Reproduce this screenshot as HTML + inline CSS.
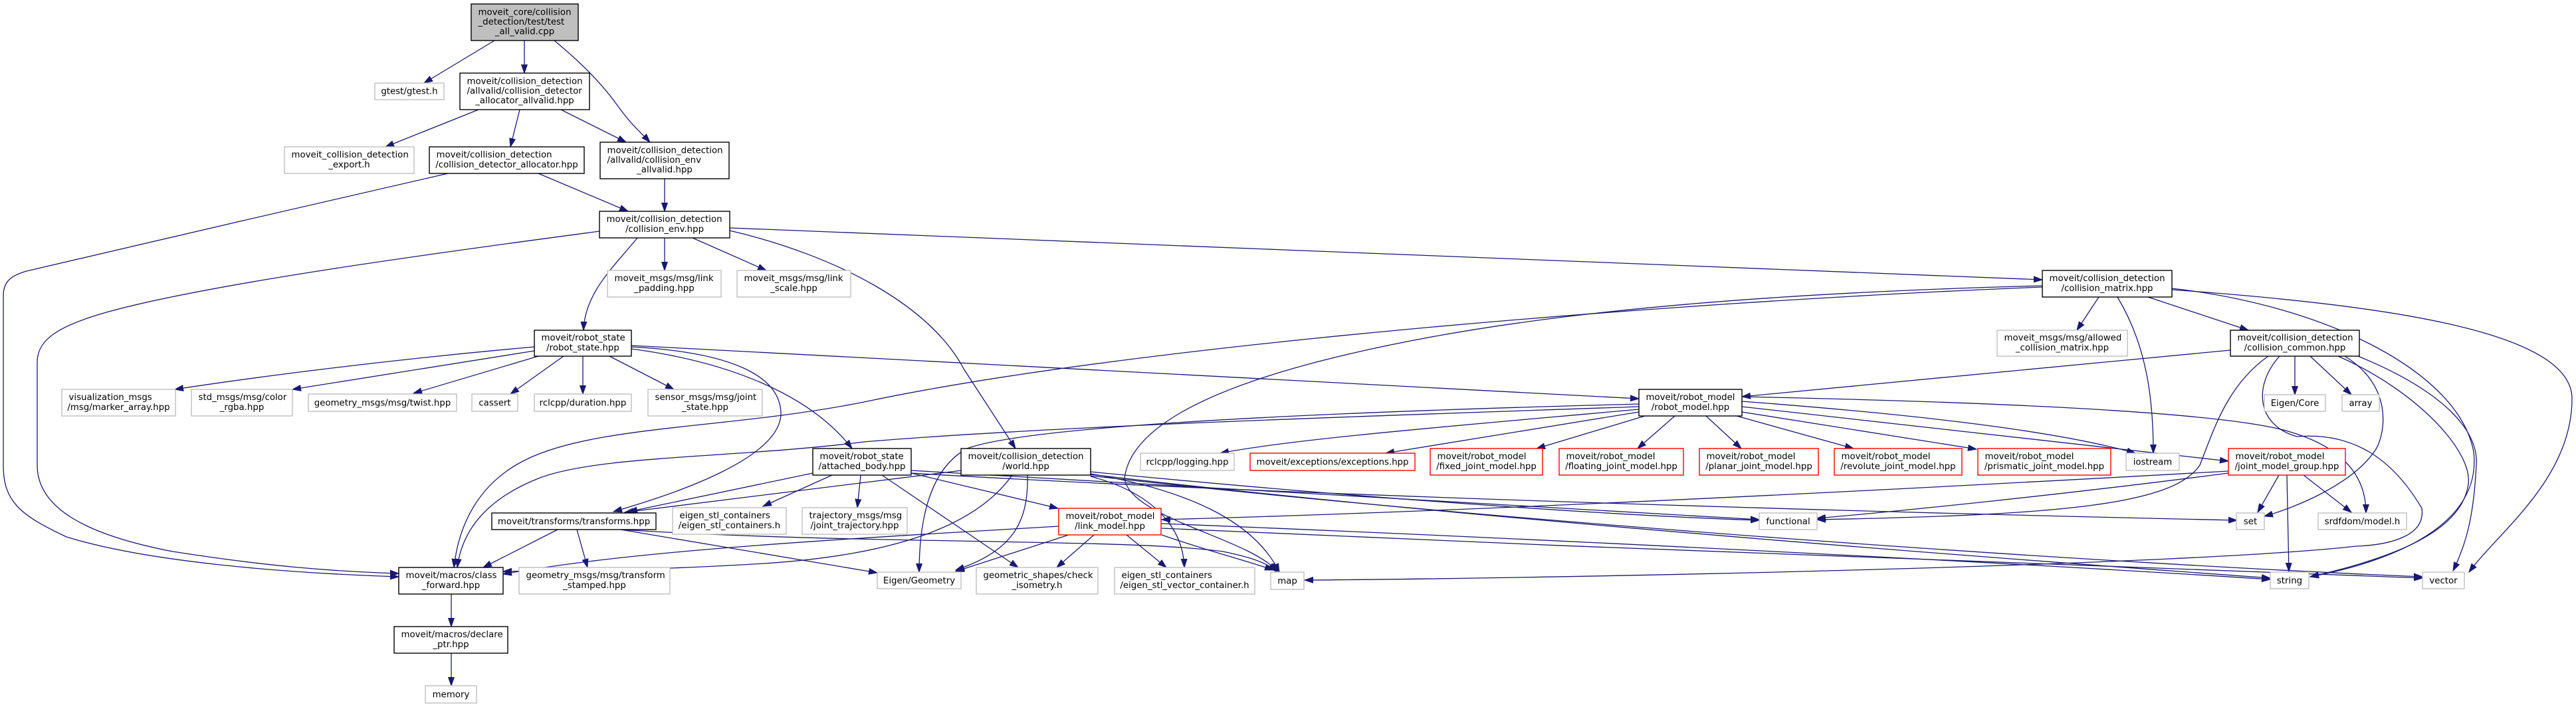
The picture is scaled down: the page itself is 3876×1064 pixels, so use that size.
<!DOCTYPE html>
<html><head><meta charset="utf-8"><style>
html,body{margin:0;padding:0;background:#fff;}
svg{display:block;}
text{font-family:"DejaVu Sans","Liberation Sans",sans-serif;font-size:13.33px;fill:#000;}
.m{text-anchor:middle;}
.s{text-anchor:start;}
rect{fill:#fff;stroke-width:1.4;}
.b{stroke:#000;}
.g{stroke:#bfbfbf;}
.r{stroke:#ff0000;}
path.e{fill:none;stroke:#191970;stroke-width:1.3;marker-end:url(#a);}
</style></head><body>
<svg width="3876" height="1064" viewBox="0 0 3876 1064" xmlns="http://www.w3.org/2000/svg">
<defs><marker id="a" markerWidth="14" markerHeight="10" refX="13" refY="5" orient="auto" markerUnits="userSpaceOnUse"><path d="M0,0.5 L13,5 L0,9.5 z" fill="#191970" stroke="#191970" stroke-width="1"/></marker></defs>

<!-- edges -->
<path class="e" d="M744,61 L638,125"/>
<path class="e" d="M789,61 L789,110"/>
<path class="e" d="M834,61 C875,95 905,125 930,160 C950,188 965,200 978,214"/>
<path class="e" d="M720,165 L580,221"/>
<path class="e" d="M782,165 L768,221"/>
<path class="e" d="M844,165 L942,214"/>
<path class="e" d="M810,261 L945,318"/>
<path class="e" d="M674,261 C520,296 180,375 40,408 C15,415 5,425 5,445 L5,700 C5,755 30,775 100,808 C220,845 420,862 600,868"/>
<path class="e" d="M1000,269 L1000,318"/>
<path class="e" d="M902,348 C700,375 320,425 160,470 C90,490 56,510 56,545 L56,700 C56,765 130,805 260,830 C400,852 500,860 600,863"/>
<path class="e" d="M1000,358 L1000,407"/>
<path class="e" d="M1042,358 L1153,407"/>
<path class="e" d="M1098,343 C1700,370 2600,398 3073,421"/>
<path class="e" d="M959,358 C925,400 880,440 878,497"/>
<path class="e" d="M1098,347 C1260,385 1400,460 1450,555 L1528,675"/>
<path class="e" d="M804,522 C600,540 400,565 263,586"/>
<path class="e" d="M804,528 L440,586"/>
<path class="e" d="M810,536 L622,592"/>
<path class="e" d="M848,536 L768,593"/>
<path class="e" d="M877,536 L877,593"/>
<path class="e" d="M917,536 L1014,586"/>
<path class="e" d="M950,520 L2466,600"/>
<path class="e" d="M950,522 C1100,530 1172,565 1175,620 C1178,690 1010,745 923,770"/>
<path class="e" d="M950,525 C1100,545 1220,595 1282,675"/>
<path class="e" d="M3073,432 C2500,455 1700,520 1300,605 C1100,645 900,640 795,690 C720,725 690,790 683,854"/>
<path class="e" d="M2466,612 C2100,625 1600,640 1300,665 C1100,690 900,685 810,720 C730,752 695,800 688,854"/>
<path class="e" d="M1223,712 L946,770"/>
<path class="e" d="M1252,715 L1148,762"/>
<path class="e" d="M1295,715 L1290,764"/>
<path class="e" d="M1327,715 L1532,854"/>
<path class="e" d="M1371,712 L1592,765"/>
<path class="e" d="M1447,708 L940,771"/>
<path class="e" d="M1523,715 C1470,790 1350,835 1150,848 C950,860 850,858 757,860"/>
<path class="e" d="M1546,715 C1548,790 1520,830 1438,858"/>
<path class="e" d="M1641,713 C1800,740 1890,790 1925,861"/>
<path class="e" d="M1641,717 C1730,740 1780,790 1782,854"/>
<path class="e" d="M1593,792 C1200,815 950,830 757,864"/>
<path class="e" d="M1608,805 L1438,860"/>
<path class="e" d="M1646,805 L1590,854"/>
<path class="e" d="M1695,805 L1755,854"/>
<path class="e" d="M1748,805 C1820,830 1880,845 1916,858"/>
<path class="e" d="M1748,788 C2300,810 3000,845 3416,872"/>
<path class="e" d="M1748,795 C2400,825 3200,855 3645,870"/>
<path class="e" d="M839,797 L727,854"/>
<path class="e" d="M868,797 L884,854"/>
<path class="e" d="M934,797 L1320,862"/>
<path class="e" d="M679,894 L679,943"/>
<path class="e" d="M679,983 L679,1032"/>
<path class="e" d="M2466,616 C2200,640 1950,660 1836,682"/>
<path class="e" d="M2466,620 L2085,682"/>
<path class="e" d="M2475,626 L2312,675"/>
<path class="e" d="M2520,626 L2464,675"/>
<path class="e" d="M2567,626 L2620,675"/>
<path class="e" d="M2613,626 L2789,675"/>
<path class="e" d="M2621,620 L2974,676"/>
<path class="e" d="M2621,604 C2900,625 3100,650 3213,682"/>
<path class="e" d="M2621,612 L3353,694"/>
<path class="e" d="M2621,597 C3000,605 3350,620 3446,650 C3530,675 3560,720 3560,772"/>
<path class="e" d="M2466,608 C2000,620 1550,640 1455,675 C1400,705 1383,780 1383,861"/>
<path class="e" d="M3158,447 L3125,497"/>
<path class="e" d="M3186,447 C3230,520 3240,600 3240,682"/>
<path class="e" d="M3232,447 L3383,497"/>
<path class="e" d="M3268,436 C3600,460 3870,500 3870,600 C3870,720 3760,800 3715,861"/>
<path class="e" d="M3268,434 C3500,460 3700,560 3722,680 C3735,790 3600,845 3476,868"/>
<path class="e" d="M3073,430 C2500,445 2200,490 2000,540 C1800,590 1700,650 1692,720 C1700,780 1880,810 1922,860"/>
<path class="e" d="M3356,527 L2621,597"/>
<path class="e" d="M3453,536 L3453,594"/>
<path class="e" d="M3476,536 L3538,594"/>
<path class="e" d="M3413,536 C3350,580 3330,650 3310,700 C3270,760 3100,775 2734,782"/>
<path class="e" d="M3430,536 C3390,580 3395,640 3456,657 C3540,650 3600,690 3644,765 C3650,805 3600,820 3545,822 C3300,850 2400,870 1963,873"/>
<path class="e" d="M3528,536 C3600,580 3590,650 3575,676 C3540,730 3450,765 3407,777"/>
<path class="e" d="M3518,536 C3640,590 3720,680 3714,728 C3705,800 3600,840 3476,868"/>
<path class="e" d="M3548,536 C3680,590 3730,650 3726,700 C3722,780 3710,820 3691,859"/>
<path class="e" d="M3429,715 L3397,771"/>
<path class="e" d="M3441,715 L3444,860"/>
<path class="e" d="M3466,715 L3538,771"/>
<path class="e" d="M3353,712 C3100,745 2850,770 2734,780"/>
<path class="e" d="M3353,709 C2800,740 2200,770 1748,782"/>
<path class="e" d="M1371,708 C1900,735 2400,770 2647,782"/>
<path class="e" d="M1371,712 C2000,750 3000,775 3366,783"/>
<path class="e" d="M1641,710 C2000,745 2400,775 2647,783"/>
<path class="e" d="M1641,714 C2200,780 3000,840 3416,870"/>
<path class="e" d="M1641,716 C2300,790 3200,850 3645,868"/>
<path class="e" d="M934,797 C1300,820 1700,810 1840,830 C1890,840 1910,850 1920,860"/>

<!-- nodes -->
<rect class="b" x="709" y="6" width="161" height="55" style="fill:#bfbfbf"/>
<text class="s" x="719.5" y="22.3">moveit_core/collision</text>
<text class="s" x="719.5" y="37">_detection/test/test</text>
<text class="m" x="789.5" y="51.7">_all_valid.cpp</text>

<rect class="g" x="564" y="125" width="104" height="25"/>
<text class="m" x="616" y="141.5">gtest/gtest.h</text>

<rect class="b" x="692" y="110" width="195" height="55"/>
<text class="s" x="702.5" y="126.3">moveit/collision_detection</text>
<text class="s" x="702.5" y="141">/allvalid/collision_detector</text>
<text class="m" x="789.5" y="155.7">_allocator_allvalid.hpp</text>

<rect class="g" x="428" y="221" width="195" height="40"/>
<text class="s" x="438.5" y="237.2">moveit_collision_detection</text>
<text class="m" x="525.5" y="251.9">_export.h</text>

<rect class="b" x="646" y="221" width="233" height="40"/>
<text class="s" x="656.5" y="237.2">moveit/collision_detection</text>
<text class="m" x="762.5" y="251.9">/collision_detector_allocator.hpp</text>

<rect class="b" x="903" y="214" width="194" height="55"/>
<text class="s" x="913.5" y="230.3">moveit/collision_detection</text>
<text class="s" x="913.5" y="245">/allvalid/collision_env</text>
<text class="m" x="1000" y="259.7">_allvalid.hpp</text>

<rect class="b" x="902" y="318" width="196" height="40"/>
<text class="s" x="912.5" y="334.2">moveit/collision_detection</text>
<text class="m" x="1000" y="348.9">/collision_env.hpp</text>

<rect class="g" x="914" y="407" width="171" height="40"/>
<text class="s" x="924.5" y="423.2">moveit_msgs/msg/link</text>
<text class="m" x="999.5" y="437.9">_padding.hpp</text>

<rect class="g" x="1109" y="407" width="171" height="40"/>
<text class="s" x="1119.5" y="423.2">moveit_msgs/msg/link</text>
<text class="m" x="1194.5" y="437.9">_scale.hpp</text>

<rect class="b" x="3073" y="407" width="195" height="40"/>
<text class="s" x="3083.5" y="423.2">moveit/collision_detection</text>
<text class="m" x="3170.5" y="437.9">/collision_matrix.hpp</text>

<rect class="b" x="804" y="497" width="146" height="39"/>
<text class="s" x="814.5" y="512.7">moveit/robot_state</text>
<text class="m" x="877" y="527.4">/robot_state.hpp</text>

<rect class="g" x="3005" y="497" width="196" height="39"/>
<text class="s" x="3015.5" y="512.7">moveit_msgs/msg/allowed</text>
<text class="m" x="3103" y="527.4">_collision_matrix.hpp</text>

<rect class="b" x="3356" y="497" width="194" height="39"/>
<text class="s" x="3366.5" y="512.7">moveit/collision_detection</text>
<text class="m" x="3453" y="527.4">/collision_common.hpp</text>

<rect class="g" x="93" y="586" width="171" height="40"/>
<text class="s" x="103.5" y="602.2">visualization_msgs</text>
<text class="m" x="178.5" y="616.9">/msg/marker_array.hpp</text>

<rect class="g" x="288" y="586" width="152" height="40"/>
<text class="s" x="298.5" y="602.2">std_msgs/msg/color</text>
<text class="m" x="364" y="616.9">_rgba.hpp</text>

<rect class="g" x="464" y="593" width="223" height="26"/>
<text class="m" x="575.5" y="610.5">geometry_msgs/msg/twist.hpp</text>

<rect class="g" x="710" y="593" width="69" height="26"/>
<text class="m" x="744.5" y="610.5">cassert</text>

<rect class="g" x="804" y="593" width="146" height="26"/>
<text class="m" x="877" y="610.5">rclcpp/duration.hpp</text>

<rect class="g" x="975" y="586" width="172" height="40"/>
<text class="s" x="985.5" y="602.2">sensor_msgs/msg/joint</text>
<text class="m" x="1061" y="616.9">_state.hpp</text>

<rect class="b" x="2466" y="586" width="155" height="40"/>
<text class="s" x="2476.5" y="602.2">moveit/robot_model</text>
<text class="m" x="2543.5" y="616.9">/robot_model.hpp</text>

<rect class="g" x="3407" y="594" width="92" height="25"/>
<text class="m" x="3453" y="611">Eigen/Core</text>

<rect class="g" x="3524" y="594" width="56" height="25"/>
<text class="m" x="3552" y="611">array</text>

<rect class="b" x="1223" y="675" width="148" height="40"/>
<text class="s" x="1233.5" y="691.2">moveit/robot_state</text>
<text class="m" x="1297" y="705.9">/attached_body.hpp</text>

<rect class="b" x="1446" y="675" width="195" height="40"/>
<text class="s" x="1456.5" y="691.2">moveit/collision_detection</text>
<text class="m" x="1543.5" y="705.9">/world.hpp</text>

<rect class="g" x="1716" y="682" width="141" height="26"/>
<text class="m" x="1786.5" y="699.5">rclcpp/logging.hpp</text>

<rect class="r" x="1881" y="682" width="248" height="26"/>
<text class="m" x="2005" y="699.5">moveit/exceptions/exceptions.hpp</text>

<rect class="r" x="2152" y="675" width="169" height="40"/>
<text class="s" x="2162.5" y="691.2">moveit/robot_model</text>
<text class="m" x="2236.5" y="705.9">/fixed_joint_model.hpp</text>

<rect class="r" x="2346" y="675" width="187" height="40"/>
<text class="s" x="2356.5" y="691.2">moveit/robot_model</text>
<text class="m" x="2439.5" y="705.9">/floating_joint_model.hpp</text>

<rect class="r" x="2557" y="675" width="179" height="40"/>
<text class="s" x="2567.5" y="691.2">moveit/robot_model</text>
<text class="m" x="2646.5" y="705.9">/planar_joint_model.hpp</text>

<rect class="r" x="2760" y="675" width="192" height="40"/>
<text class="s" x="2770.5" y="691.2">moveit/robot_model</text>
<text class="m" x="2856" y="705.9">/revolute_joint_model.hpp</text>

<rect class="r" x="2976" y="675" width="200" height="40"/>
<text class="s" x="2986.5" y="691.2">moveit/robot_model</text>
<text class="m" x="3076" y="705.9">/prismatic_joint_model.hpp</text>

<rect class="g" x="3199" y="682" width="80" height="26"/>
<text class="m" x="3239" y="699.5">iostream</text>

<rect class="r" x="3353" y="675" width="176" height="40"/>
<text class="s" x="3363.5" y="691.2">moveit/robot_model</text>
<text class="m" x="3441" y="705.9">/joint_model_group.hpp</text>

<rect class="b" x="740" y="772" width="247" height="25"/>
<text class="m" x="863.5" y="789">moveit/transforms/transforms.hpp</text>

<rect class="g" x="1012" y="764" width="171" height="40"/>
<text class="s" x="1022.5" y="780.2">eigen_stl_containers</text>
<text class="m" x="1097.5" y="794.9">/eigen_stl_containers.h</text>

<rect class="g" x="1207" y="764" width="158" height="40"/>
<text class="s" x="1217.5" y="780.2">trajectory_msgs/msg</text>
<text class="m" x="1286" y="794.9">/joint_trajectory.hpp</text>

<rect class="r" x="1593" y="765" width="154" height="40"/>
<text class="s" x="1603.5" y="781.2">moveit/robot_model</text>
<text class="m" x="1670" y="795.9">/link_model.hpp</text>

<rect class="g" x="2647" y="772" width="87" height="25"/>
<text class="m" x="2690.5" y="789">functional</text>

<rect class="g" x="3365" y="772" width="42" height="25"/>
<text class="m" x="3386" y="789">set</text>

<rect class="g" x="3488" y="772" width="133" height="25"/>
<text class="m" x="3554.5" y="789">srdfdom/model.h</text>

<rect class="b" x="600" y="854" width="157" height="40"/>
<text class="s" x="610.5" y="870.2">moveit/macros/class</text>
<text class="m" x="678.5" y="884.9">_forward.hpp</text>

<rect class="g" x="781" y="854" width="227" height="40"/>
<text class="s" x="791.5" y="870.2">geometry_msgs/msg/transform</text>
<text class="m" x="894.5" y="884.9">_stamped.hpp</text>

<rect class="g" x="1320" y="861" width="126" height="25"/>
<text class="m" x="1383" y="878">Eigen/Geometry</text>

<rect class="g" x="1469" y="854" width="183" height="40"/>
<text class="s" x="1479.5" y="870.2">geometric_shapes/check</text>
<text class="m" x="1560.5" y="884.9">_isometry.h</text>

<rect class="g" x="1677" y="854" width="211" height="40"/>
<text class="s" x="1687.5" y="870.2">eigen_stl_containers</text>
<text class="m" x="1782.5" y="884.9">/eigen_stl_vector_container.h</text>

<rect class="g" x="1912" y="861" width="50" height="26"/>
<text class="m" x="1937" y="878.5">map</text>

<rect class="g" x="3416" y="861" width="58" height="25"/>
<text class="m" x="3445" y="878">string</text>

<rect class="g" x="3645" y="861" width="63" height="25"/>
<text class="m" x="3676.5" y="878">vector</text>

<rect class="b" x="593" y="943" width="171" height="40"/>
<text class="s" x="603.5" y="959.2">moveit/macros/declare</text>
<text class="m" x="678.5" y="973.9">_ptr.hpp</text>

<rect class="g" x="640" y="1032" width="77" height="26"/>
<text class="m" x="678.5" y="1049.5">memory</text>
</svg>
</body></html>
